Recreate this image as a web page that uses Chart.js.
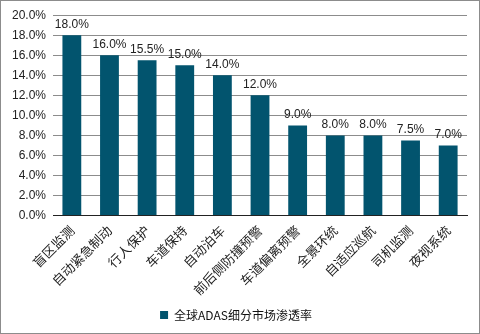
<!DOCTYPE html>
<html>
<head>
<meta charset="utf-8">
<script src="https://cdn.jsdelivr.net/npm/chart.js@4/dist/chart.umd.min.js"></script>
<style>
    html, body { margin: 0; padding: 0; background: #fff; }
    #wrap {
        width: 480px;
        height: 334px;
        box-sizing: border-box;
        border: 1px solid #8c8c8c;
        position: relative;
    }
</style>
</head>
<body>
<div id="wrap"><canvas id="chart"></canvas></div>
<script>
    // 细分功能及渗透率（%）
    const categories = ['盲区监测', '自动紧急制动', '行人保护', '车道保持', '自动泊车', '前后侧防撞预警',
        '车道偏离预警', '全景环统', '自适应巡航', '司机监测', '夜视系统'];
    const penetration = [18.0, 16.0, 15.5, 15.0, 14.0, 12.0, 9.0, 8.0, 8.0, 7.5, 7.0];
    const seriesName = '全球ADAS细分市场渗透率';

    const barColor = '#02546e';
    const cjkFont = '"Noto Sans CJK SC", "Noto Sans", sans-serif';

    // 柱顶数值标签
    const valueLabels = {
        id: 'valueLabels',
        afterDatasetsDraw(chart) {
            const ctx = chart.ctx;
            const meta = chart.getDatasetMeta(0);
            ctx.save();
            ctx.font = '12px "Liberation Sans", Arial, sans-serif';
            ctx.fillStyle = '#222';
            ctx.textAlign = 'center';
            ctx.textBaseline = 'bottom';
            meta.data.forEach((bar, i) => {
                ctx.fillText(penetration[i].toFixed(1) + '%', bar.x, bar.y - 5);
            });
            ctx.restore();
        }
    };

    new Chart(document.getElementById('chart'), {
        type: 'bar',
        data: {
            labels: categories,
            datasets: [{
                label: seriesName,
                data: penetration,
                backgroundColor: barColor,
                borderWidth: 0,
                barPercentage: 0.5,
                categoryPercentage: 1
            }]
        },
        options: {
            responsive: true,
            maintainAspectRatio: false,
            animation: false,
            layout: { padding: { top: 7, right: 12, left: 4, bottom: 2 } },
            plugins: {
                legend: {
                    position: 'bottom',
                    labels: {
                        boxWidth: 8,
                        boxHeight: 8,
                        padding: 4,
                        color: '#111',
                        font: { family: cjkFont, size: 12 }
                    }
                },
                tooltip: { enabled: false }
            },
            scales: {
                x: {
                    grid: { display: false, drawTicks: false },
                    border: { color: '#222', width: 1 },
                    ticks: {
                        maxRotation: 45,
                        minRotation: 45,
                        autoSkip: false,
                        padding: 7,
                        color: '#222',
                        font: { family: cjkFont, size: 13 }
                    }
                },
                y: {
                    min: 0,
                    max: 20,
                    grid: { color: '#8c8c8c', drawTicks: false },
                    border: { display: false },
                    ticks: {
                        stepSize: 2,
                        padding: 7,
                        color: '#222',
                        font: { family: '"Liberation Sans", Arial, sans-serif', size: 12 },
                        callback: v => v.toFixed(1) + '%'
                    }
                }
            }
        },
        plugins: [valueLabels]
    });
</script>
</body>
</html>
